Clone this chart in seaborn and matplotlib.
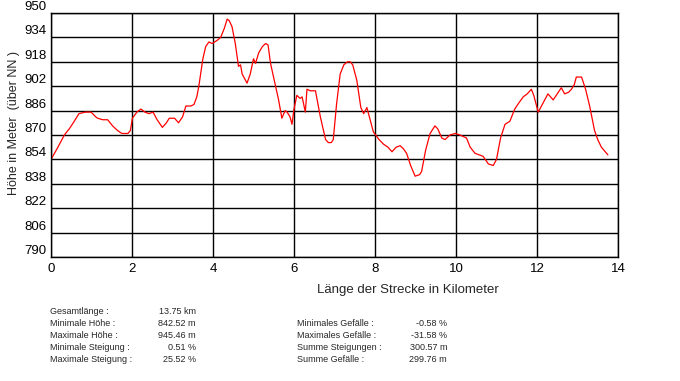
import matplotlib
matplotlib.use("Agg")
import matplotlib.pyplot as plt
import seaborn as sns
import pandas as pd

# profile (km, metres above sea level)
km = [0.00, 0.15, 0.33, 0.45, 0.55, 0.69, 0.85, 0.99, 1.10, 1.15, 1.28, 1.40, 1.52, 1.64, 1.75, 1.90,
      1.96, 2.01, 2.12, 2.22, 2.32, 2.42, 2.52, 2.62, 2.75, 2.85, 2.92, 3.05, 3.15, 3.25, 3.33, 3.45,
      3.53, 3.60, 3.65, 3.75, 3.82, 3.90, 3.98, 4.10, 4.19, 4.28, 4.35, 4.40, 4.47, 4.55, 4.63, 4.68,
      4.72, 4.84, 4.92, 5.00, 5.05, 5.13, 5.22, 5.30, 5.36, 5.42, 5.52, 5.62, 5.70, 5.78, 5.83, 5.90,
      5.95, 6.00, 6.07, 6.15, 6.20, 6.28, 6.32, 6.40, 6.53, 6.65, 6.78, 6.85, 6.92, 6.97, 7.05, 7.14,
      7.23, 7.32, 7.39, 7.45, 7.55, 7.65, 7.72, 7.80, 7.88, 7.96, 8.10, 8.21, 8.32, 8.42, 8.52, 8.62,
      8.70, 8.78, 8.88, 8.99, 9.10, 9.15, 9.25, 9.36, 9.48, 9.55, 9.65, 9.73, 9.85, 9.98, 10.10, 10.26,
      10.35, 10.47, 10.57, 10.67, 10.80, 10.92, 11.00, 11.10, 11.21, 11.33, 11.45, 11.55, 11.66, 11.76,
      11.86, 11.92, 12.03, 12.15, 12.27, 12.40, 12.50, 12.60, 12.68, 12.78, 12.85, 12.92, 12.97, 13.10,
      13.20, 13.30, 13.42, 13.50, 13.59, 13.75]
hoehe = [854, 861, 870, 874, 878, 884, 885, 885, 882, 881, 880, 880, 876, 873, 871, 871,
         873, 881, 885, 887, 885, 884, 885, 880, 875, 878, 881, 881, 878, 882, 889, 889,
         890, 895, 902, 920, 928, 931, 930, 932, 934, 940, 946, 945, 941, 930, 915, 916,
         910, 904, 910, 920, 917, 924, 928, 930, 929, 917, 905, 893, 881, 886, 885, 882,
         877, 887, 896, 894, 895, 885, 900, 899, 899, 882, 867, 865, 865, 867, 890, 910,
         916, 918, 918, 916, 906, 888, 884, 888, 880, 872, 867, 864, 862, 859, 862, 863,
         861, 858, 850, 843, 844, 846, 860, 871, 876, 874, 868, 867, 870, 871, 870, 868,
         862, 858, 857, 856, 851, 850, 854, 868, 877, 879, 887, 891, 895, 897,
         900, 896, 885, 891, 897, 893, 897, 901, 897, 898, 900, 903, 908, 908,
         900, 889, 873, 867, 862, 857]

x_ticks = [0, 2, 4, 6, 8, 10, 12, 14]
y_ticks = [790, 806, 822, 838, 854, 870, 886, 902, 918, 934, 950]

stats_left = ["Gesamtlänge :", "Minimale Höhe :", "Maximale Höhe :", "Minimale Steigung :", "Maximale Steigung :"]
stats_left_val = ["13.75 km", "842.52 m", "945.46 m", "0.51 %", "25.52 %"]
stats_right = ["Minimales Gefälle :", "Maximales Gefälle :", "Summe Steigungen :", "Summe Gefälle :"]
stats_right_val = ["-0.58 %", "-31.58 %", "300.57 m", "299.76 m"]

df = pd.DataFrame({"km": km, "hoehe": hoehe})

sns.set_style("white")
plt.rcParams["font.family"] = ["Liberation Sans", "DejaVu Sans"]

W, H = 680, 381
fig = plt.figure(figsize=(W / 100, H / 100), dpi=100)
ax = fig.add_axes([51 / W, 1 - 257 / H, 567 / W, 244 / H])

sns.lineplot(data=df, x="km", y="hoehe", color="#ff0000", linewidth=0.9, ax=ax)

ax.set_xlim(0, 14)
ax.set_ylim(790, 950)
ax.set_xticks(x_ticks)
ax.set_yticks(y_ticks)
ax.grid(True, color="black", linewidth=1.0)
ax.set_axisbelow(True)
for s in ax.spines.values():
    s.set_color("black")
    s.set_linewidth(1.0)
ax.tick_params(length=0, labelsize=9.5, colors="black")
ax.tick_params(axis="x", pad=4)
ax.tick_params(axis="y", pad=3)
for lab in ax.get_yticklabels():
    lab.set_verticalalignment("bottom")

ax.set_xlabel("Länge der Strecke in Kilometer", fontsize=9.5)
ax.xaxis.set_label_coords(0.63, -0.11)
ax.set_ylabel("Höhe in Meter  (über NN )", fontsize=9)
ax.yaxis.set_label_coords(-0.055, 0.55)

rows = [311, 323, 335, 347, 359]
for i, (lab, val) in enumerate(zip(stats_left, stats_left_val)):
    fig.text(50 / W, 1 - rows[i] / H, lab, fontsize=6.5, va="center", ha="left")
    fig.text(196 / W, 1 - rows[i] / H, val, fontsize=6.5, va="center", ha="right")
for i, (lab, val) in enumerate(zip(stats_right, stats_right_val)):
    fig.text(297 / W, 1 - rows[i + 1] / H, lab, fontsize=6.5, va="center", ha="left")
    fig.text(447 / W, 1 - rows[i + 1] / H, val, fontsize=6.5, va="center", ha="right")

fig.savefig("out.png", dpi=100)
